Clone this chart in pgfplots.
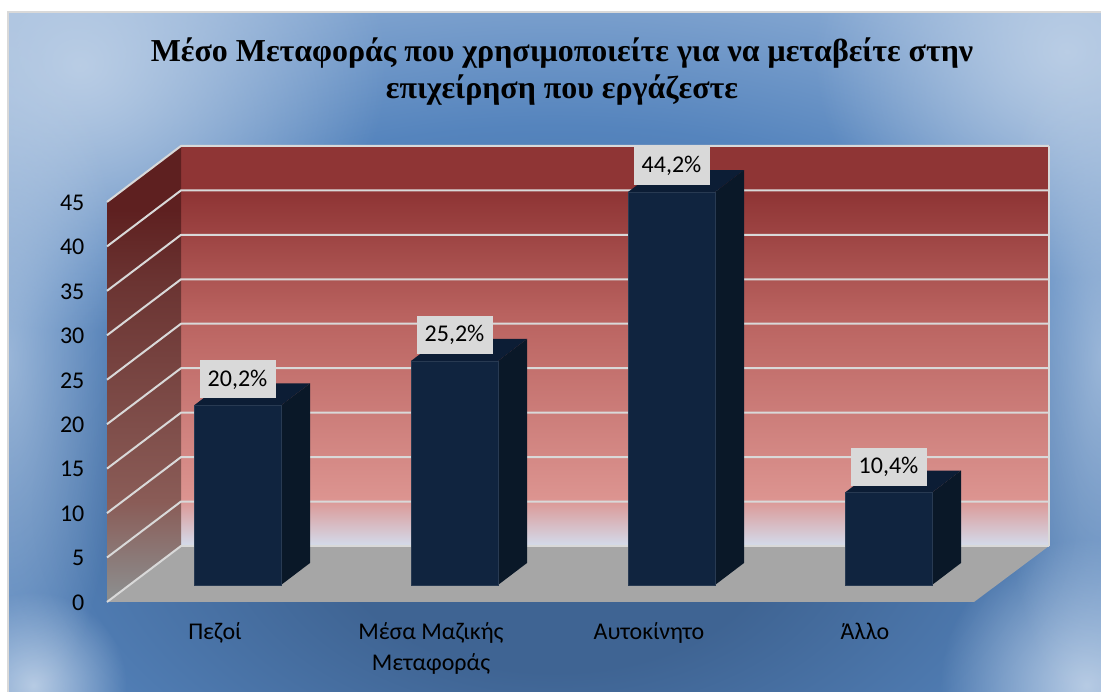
\documentclass[border=0pt]{standalone}
\usepackage{pgfplots}
\pgfplotsset{compat=1.18}
\usepackage{fontspec}
\setmainfont{Carlito}
\newfontfamily\titlefont{Liberation Serif}
\usetikzlibrary{fadings}
\definecolor{gridc}{HTML}{D9D9D9}
\definecolor{barfront}{HTML}{10243F}
\definecolor{barside}{HTML}{0A1828}
\definecolor{bartop}{HTML}{0C1D35}
\definecolor{floorc}{HTML}{A6A6A6}
\definecolor{w1}{HTML}{D3DCEC}
\definecolor{w2}{HTML}{DC9490}
\definecolor{w3}{HTML}{B9625F}
\definecolor{w4}{HTML}{8F3535}
\definecolor{l1}{HTML}{8C8C8C}
\definecolor{l2}{HTML}{8A5C57}
\definecolor{l3}{HTML}{6B3432}
\definecolor{l4}{HTML}{5E2020}
\definecolor{b0}{HTML}{3F6493}
\definecolor{b1}{HTML}{5584BD}
\definecolor{b2}{HTML}{86A8D2}
\definecolor{b3}{HTML}{BCCFE6}
\pgfdeclareverticalshading{backwall}{100bp}{
  color(0bp)=(w1);color(25bp)=(w1);color(31bp)=(w2);color(54bp)=(w3);
  color(69bp)=(w4);color(100bp)=(w4)}
\pgfdeclareverticalshading{sidewall}{100bp}{
  color(0bp)=(l1);color(26bp)=(l1);color(36bp)=(l2);color(60bp)=(l3);
  color(68bp)=(l4);color(100bp)=(l4)}
\pgfdeclareradialshading{bgshade}{\pgfpoint{0bp}{-15bp}}{
  color(0bp)=(b0);color(10bp)=(b0);color(27.5bp)=(b1);color(37.5bp)=(b2);color(50bp)=(b3);color(100bp)=(b3)}
\tikzfading[name=glow,inner color=transparent!5,outer color=transparent!100]
\begin{document}
\begin{tikzpicture}[x=1pt,y=1pt]
\useasboundingbox (0,0) rectangle (825.75,519);
\fill[white] (0,0) rectangle (825.75,519);
\path[shading=bgshade] (6,0) rectangle (825.75,510);
\begin{scope}
\clip (6,0) rectangle (825.75,510);
\fill[b3,path fading=glow,fit fading=true] (25,5) circle (70);
\fill[b3,path fading=glow,fit fading=true] (815,5) circle (110);
\fill[b3,path fading=glow,fit fading=true] (60,470) ellipse (230 and 200);
\fill[b3,path fading=glow,fit fading=true] (800,480) ellipse (190 and 170);
\fill[b3,opacity=.7,path fading=glow,fit fading=true] (6,250) ellipse (85 and 280);
\fill[b3,opacity=.7,path fading=glow,fit fading=true] (825.75,250) ellipse (80 and 280);
\end{scope}
\draw[gridc,line width=1.5pt] (6,0) -- (6,510) -- (825.75,510);
\begin{axis}[
  at={(0,0)},anchor=south west,
  scale only axis,width=825.75pt,height=519pt,
  xmin=0,xmax=1101,ymin=-12.036,ymax=65.804,
  axis line style={draw=none},tick style={draw=none},
  xtick pos=bottom,ytick pos=left,
  ytick={-1.912,3.088,8.088,13.088,18.088,23.088,28.088,33.088,38.088,43.088},
  yticklabels={0,5,10,15,20,25,30,35,40,45},
  yticklabel style={anchor=east,inner sep=0pt,xshift=63.5pt,black,yshift=-.5pt},
  xtick={215,431,649,865},
  xticklabels={Πεζοί,{Μέσα Μαζικής\\Μεταφοράς},Αυτοκίνητο,Άλλο},
  xticklabel style={anchor=north,align=center,inner sep=0pt,yshift=52pt,black},
  ticklabel style={font=\fontsize{18}{23}\selectfont},
  clip=false,
]
% walls and floor
\addplot[draw=none,shading=backwall] coordinates {(181,4.387)(1049,4.387)(1049,49.387)(181,49.387)} -- cycle;
\addplot[draw=none,shading=sidewall] coordinates {(107,-1.912)(181,4.387)(181,49.387)(107,43.088)} -- cycle;
\addplot[draw=none,fill=floorc] coordinates {(107,-1.912)(974,-1.912)(1049,4.387)(181,4.387)} -- cycle;
% grid lines on side wall and back wall
\pgfplotsinvokeforeach{0,5,...,45}{
  \addplot[gridc,line width=1.5pt,line join=round] coordinates {(107,#1-1.912)(181,#1+4.387)(1049,#1+4.387)};
}
\addplot[gridc,line width=.8pt] coordinates {(1049,4.387)(1049,49.387)};
% bars: top and side faces
\addplot[draw=none,fill=bartop] coordinates {(194,20.2)(281,20.2)(310,22.675)(223,22.675)} -- cycle;
\addplot[draw=none,fill=barside] coordinates {(281,0)(310,2.475)(310,22.675)(281,20.2)} -- cycle;
\addplot[draw=none,fill=bartop] coordinates {(411,25.2)(498,25.2)(527,27.675)(440,27.675)} -- cycle;
\addplot[draw=none,fill=barside] coordinates {(498,0)(527,2.475)(527,27.675)(498,25.2)} -- cycle;
\addplot[draw=none,fill=bartop] coordinates {(628,44.2)(715,44.2)(744,46.675)(657,46.675)} -- cycle;
\addplot[draw=none,fill=barside] coordinates {(715,0)(744,2.475)(744,46.675)(715,44.2)} -- cycle;
\addplot[draw=none,fill=bartop] coordinates {(845,10.4)(932,10.4)(961,12.875)(874,12.875)} -- cycle;
\addplot[draw=none,fill=barside] coordinates {(932,0)(961,2.475)(961,12.875)(932,10.4)} -- cycle;
% bars: front faces with labels
\addplot[ybar,bar width=65.25pt,fill=barfront,draw=barfront!90!white,line width=.4pt,
  nodes near coords={\pgfmathprintnumber[fixed,fixed zerofill,precision=1,use comma,assume math mode=true]{\pgfplotspointmeta}\%},
  every node near coord/.append style={font=\fontsize{18}{21}\selectfont,black,fill=gridc,
    anchor=south,inner sep=0pt,minimum width=57pt,minimum height=28.5pt,yshift=5pt}]
  coordinates {(237.5,20.2)(454.5,25.2)(671.5,44.2)(888.5,10.4)};
\node[font=\titlefont\bfseries\fontsize{23.95}{28}\selectfont,align=center,black] at (axis cs:562,57.75)
  {Μέσο Μεταφοράς που χρησιμοποιείτε για να μεταβείτε στην\\επιχείρηση που εργάζεστε};
\end{axis}
\end{tikzpicture}
\end{document}
